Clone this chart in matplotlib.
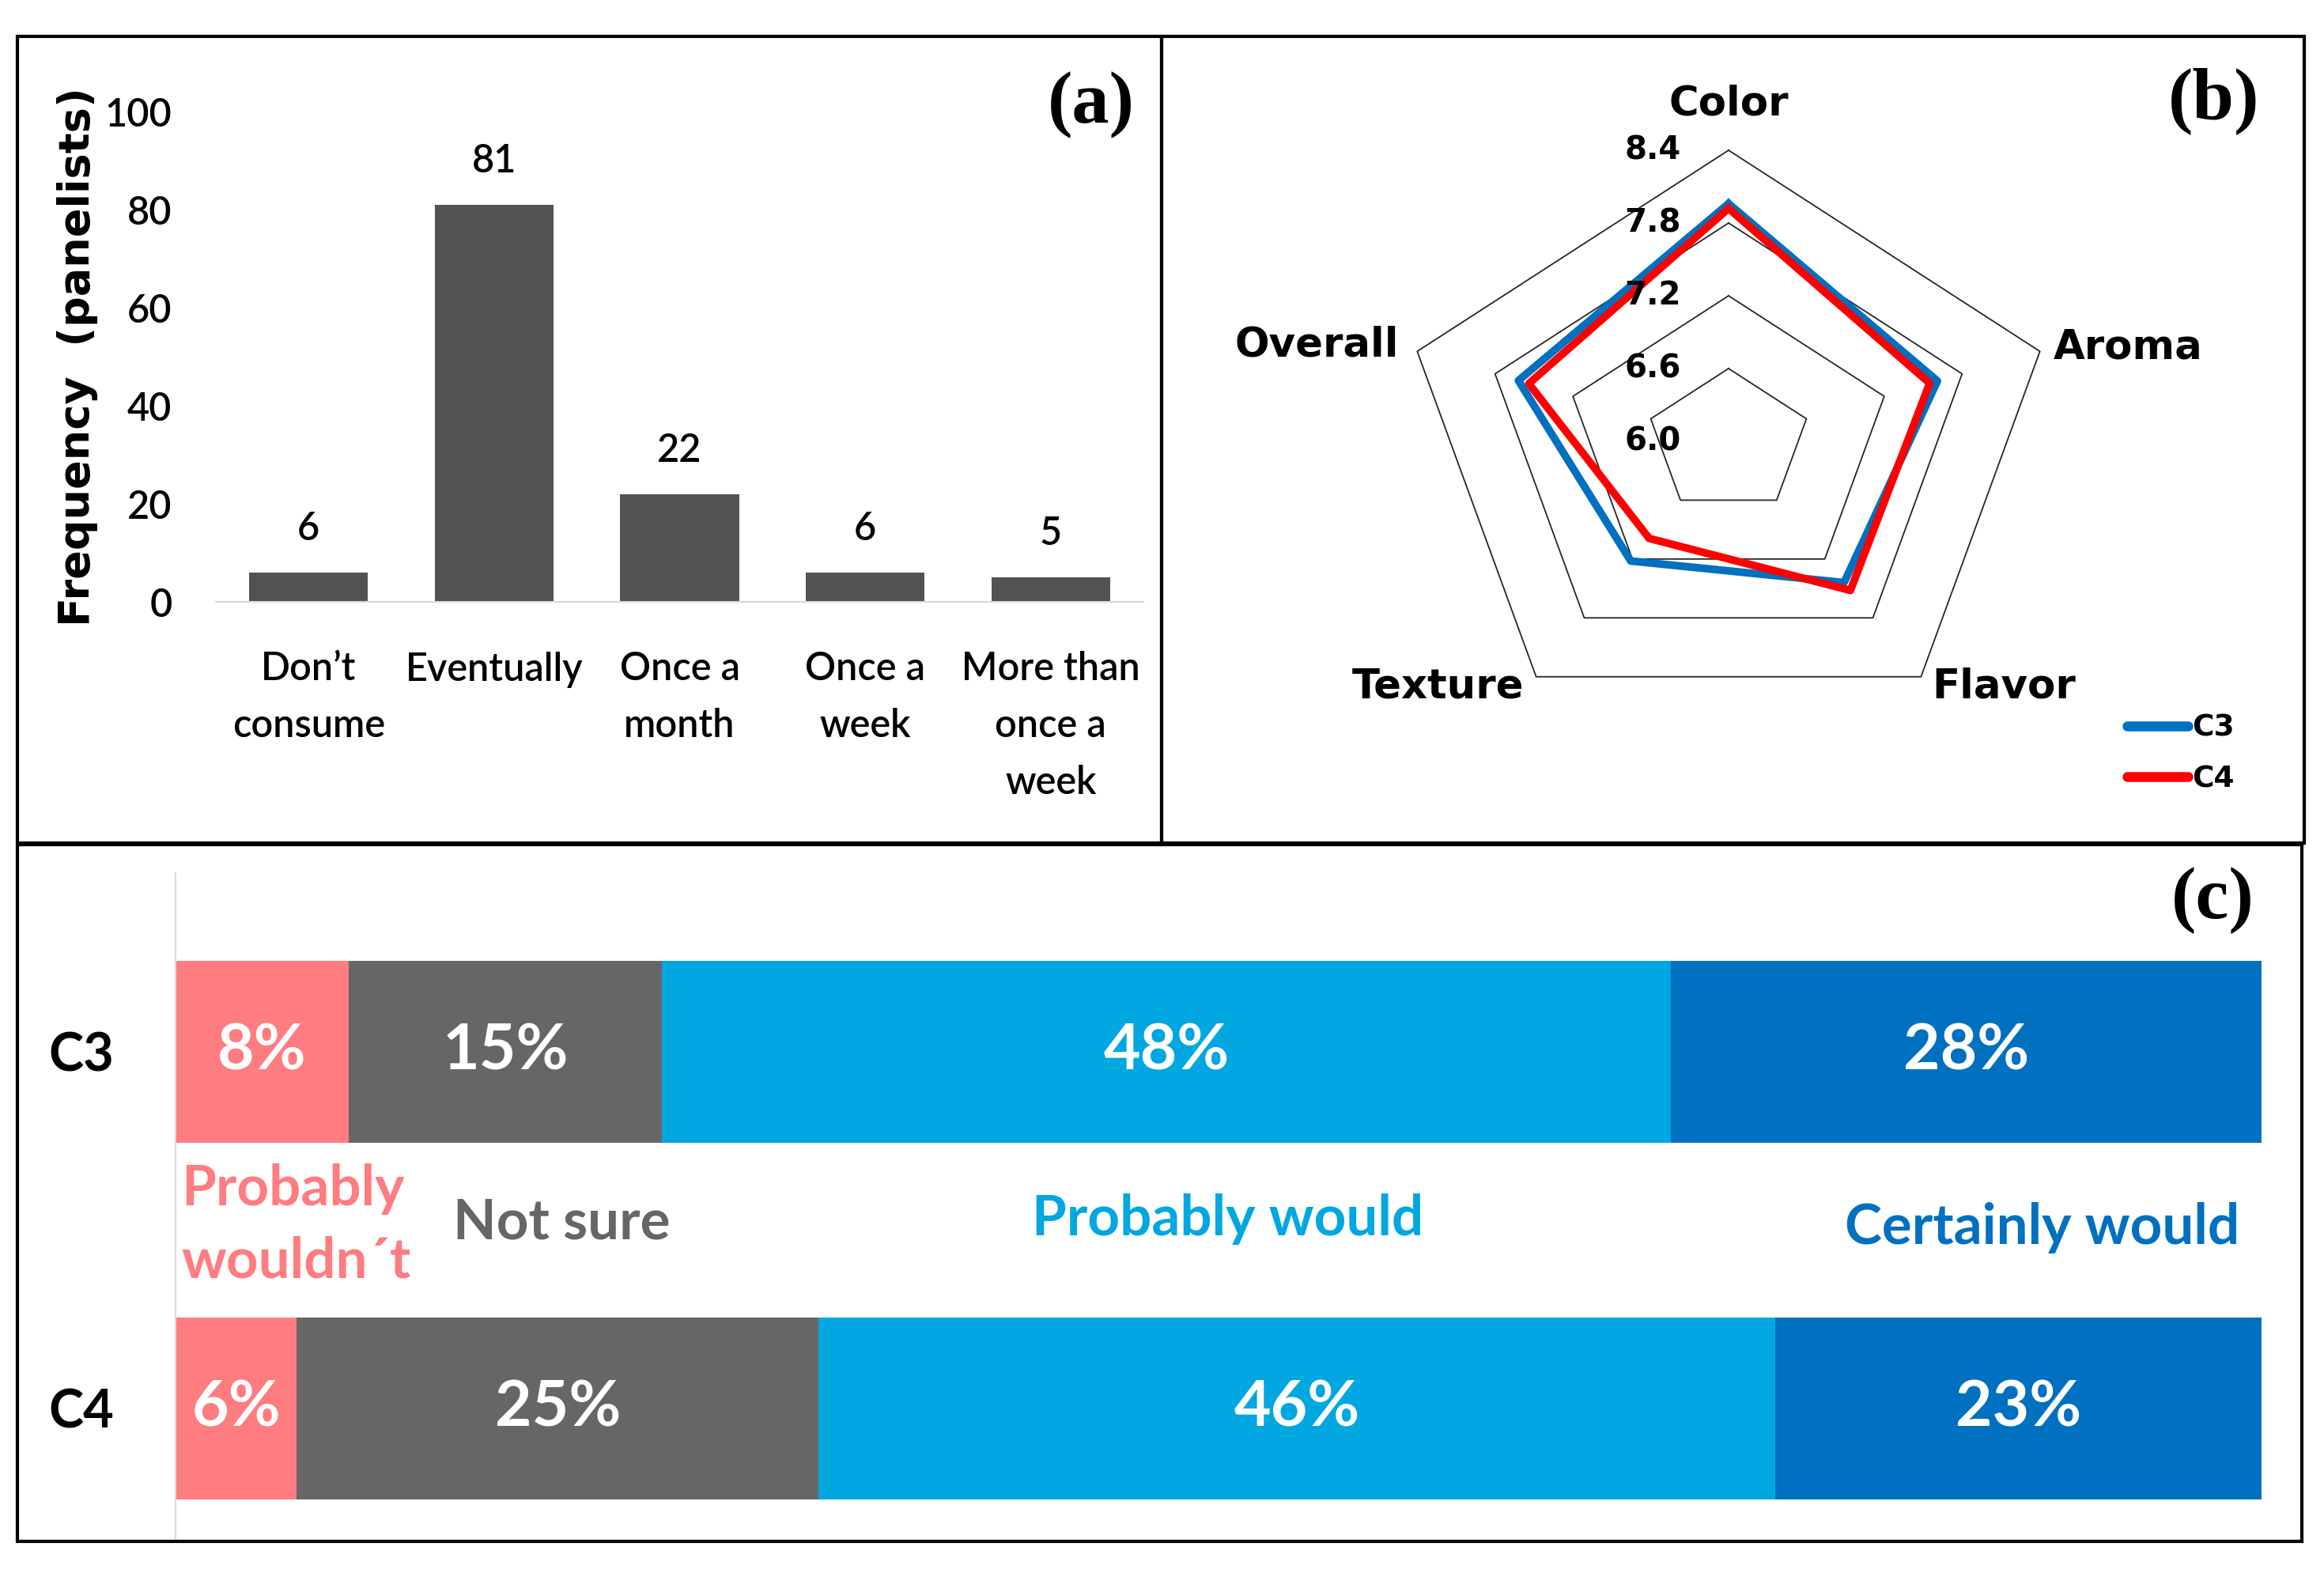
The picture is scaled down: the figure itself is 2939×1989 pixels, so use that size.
import numpy as np
import matplotlib
matplotlib.use("Agg")
import matplotlib.pyplot as plt
from matplotlib.patches import Rectangle
from matplotlib.transforms import offset_copy

# (a) consumption frequency
freq_labels = ["Don’t\nconsume", "Eventually", "Once a\nmonth", "Once a\nweek", "More than\nonce a\nweek"]
freq_values = [6, 81, 22, 6, 5]

# (b) sensory scores
attributes = ["Color", "Aroma", "Flavor", "Texture", "Overall"]
c3_scores = [7.96, 7.61, 7.44, 7.22, 7.62]
c4_scores = [7.92, 7.55, 7.52, 6.99, 7.54]
radar_levels = [6.0, 6.6, 7.2, 7.8, 8.4]

# (c) purchase intention, % of panelists
samples = ["C3", "C4"]
intent_labels = ["Probably\nwouldn´t", "Not sure", "Probably would", "Certainly would"]
c3_intent = [8.3, 15.0, 48.3, 28.3]
c4_intent = [5.8, 25.0, 45.8, 23.3]
intent_colors = ["#FF7C80", "#666666", "#00A7E1", "#0070C0"]

plt.rcParams['font.family'] = ['Lato', 'DejaVu Sans']

W, H = 2939, 1989
fig = plt.figure(figsize=(W / 100, H / 100), dpi=100)


def px_box(x0, y0, x1, y1):
    return [x0 / W, 1 - y1 / H, (x1 - x0) / W, (y1 - y0) / H]


# panel frames
for x0, y0, x1, y1 in [(22, 46, 1469, 1066), (1469, 46, 2914, 1066), (22, 1068, 2911, 1949)]:
    fig.add_artist(Rectangle((x0 / W, 1 - y1 / H), (x1 - x0) / W, (y1 - y0) / H,
                             transform=fig.transFigure, fill=False, ec='black', lw=3))

# ---- (a) bar chart
ax1 = fig.add_axes(px_box(273, 141, 1446, 761))
x = np.arange(len(freq_values))
bars = ax1.bar(x, freq_values, width=0.64, color="#525252")
ax1.bar_label(bars, padding=23, fontsize=35, fontweight='semibold')
ax1.set_xlim(-0.5, len(freq_values) - 0.5)
ax1.set_ylim(0, 100)
ax1.set_yticks(range(0, 101, 20))
ax1.set_xticks(x)
ax1.set_xticklabels(freq_labels, linespacing=1.7)
ax1.tick_params(axis='x', length=0, pad=45, labelsize=35)
ax1.tick_params(axis='y', length=0, pad=40, labelsize=35)
for lbl in ax1.get_xticklabels() + ax1.get_yticklabels():
    lbl.set_fontweight('semibold')
for s in ['top', 'right', 'left']:
    ax1.spines[s].set_visible(False)
ax1.spines['bottom'].set_color('#d9d9d9')
ax1.spines['bottom'].set_linewidth(1.5)
ax1.set_ylabel("Frequency  (panelists)", fontfamily='DejaVu Sans', fontweight='bold',
               fontsize=39, labelpad=6)

# ---- (b) radar chart
ax2 = fig.add_axes(px_box(2186 - 414, 558 - 368, 2186 + 414, 558 + 368), projection='polar')
ax2.set_aspect('auto')
ax2.set_theta_offset(np.pi / 2)
ax2.set_theta_direction(-1)
ax2.set_ylim(radar_levels[0], radar_levels[-1])
angles = np.linspace(0, 2 * np.pi, len(attributes), endpoint=False)
closed = np.append(angles, angles[0])
for lev in radar_levels[1:]:
    ax2.plot(closed, [lev] * len(closed), color='#262626', lw=1.3, clip_on=False)
ax2.plot(closed, c3_scores + c3_scores[:1], color='#0070C0', lw=7, label='C3', clip_on=False)
ax2.plot(closed, c4_scores + c4_scores[:1], color='#FF0000', lw=7, label='C4', clip_on=False)
ax2.grid(False)
ax2.set_xticks([])
ax2.set_yticks([])
ax2.spines['polar'].set_visible(False)

tick_tr = offset_copy(ax2.transData, fig=fig, x=-60, y=0, units='dots')
for lev in radar_levels:
    ax2.text(0, lev, f"{lev:.1f}", transform=tick_tr, ha='right', va='center',
             fontsize=29, fontfamily='DejaVu Sans', fontweight='bold')

label_pos = [(0, 59, 'center'), (17, 5, 'left'), (14, -13, 'left'),
             (-15, -13, 'right'), (-23, 8, 'right')]
for ang, name, (dx, dy, ha) in zip(angles, attributes, label_pos):
    tr = offset_copy(ax2.transData, fig=fig, x=dx, y=dy, units='dots')
    ax2.text(ang, radar_levels[-1], name, transform=tr, ha=ha, va='center',
             fontsize=37, fontfamily='DejaVu Sans', fontweight='bold')

leg = ax2.legend(loc='upper left', bbox_to_anchor=(2690 / W, 1 - 903 / H),
                 bbox_transform=fig.transFigure, frameon=False,
                 prop=dict(family='DejaVu Sans', weight='bold', size=27),
                 handlelength=2.05, handletextpad=0.15, labelspacing=0.75,
                 borderpad=0, borderaxespad=0)
for ln in leg.get_lines():
    ln.set_linewidth(9)
    ln.set_solid_capstyle('round')

# ---- (c) stacked horizontal bars
ax3 = fig.add_axes(px_box(222, 1104, 2860, 1946))
data = np.array([c3_intent, c4_intent])
y = np.arange(len(samples))
left = np.zeros(len(samples))
for j in range(data.shape[1]):
    vals = data[:, j]
    hb = ax3.barh(y, vals, left=left, height=0.51, color=intent_colors[j])
    ax3.bar_label(hb, labels=[f"{v:.0f}%" for v in vals], label_type='center',
                  color='white', fontsize=58, fontweight='bold')
    left = left + vals
ax3.set_xlim(0, left.max())
ax3.set_ylim(1.366, -0.5)
ax3.set_yticks(y)
ax3.set_yticklabels(samples, fontsize=48, fontweight='bold')
ax3.set_xticks([])
ax3.tick_params(axis='y', length=0, pad=56)
for s in ['top', 'right', 'bottom']:
    ax3.spines[s].set_visible(False)
ax3.spines['left'].set_color('#d9d9d9')
ax3.spines['left'].set_linewidth(1.5)

cat_pos = [(0.27, 0.486, 'left'), (13.3, 0.48, 'left'), (50.4, 0.47, 'center'), (89.4, 0.493, 'center')]
for (tx, ty, ha), name, col in zip(cat_pos, intent_labels, intent_colors):
    ax3.text(tx, ty, name, ha=ha, va='center', color=col, fontsize=51,
             fontweight='bold', linespacing=1.5)

# panel letters
for lab, (px, py) in zip(["(a)", "(b)", "(c)"], [(1380, 133), (2800, 128), (2798, 1139)]):
    fig.text(px / W, 1 - py / H, lab, ha='center', va='center', fontsize=68,
             fontfamily='Liberation Serif', fontweight='bold')

fig.savefig("out.png", dpi=100)
